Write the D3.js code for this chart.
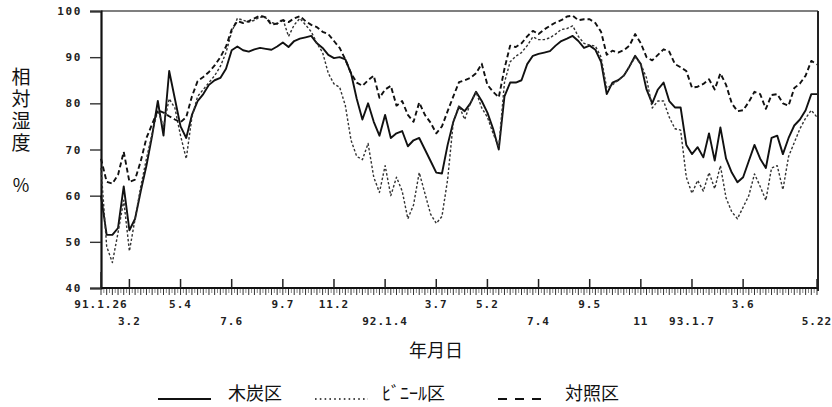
<!DOCTYPE html>
<html>
<head>
<meta charset="utf-8">
<script src="https://cdn.jsdelivr.net/npm/d3@7/dist/d3.min.js"></script>
<style>
  html, body { margin: 0; padding: 0; background: #fff; }
  svg { display: block; }
</style>
</head>
<body>
<svg id="chart" width="832" height="407"></svg>
<script>
// Weekly relative humidity (%) from 1991-01-26 to 1993-05-22, one value per week.
const charcoal = [
  60, 51.5, 51.5, 53, 62, 52.5, 55, 61, 66.5, 73, 80.5, 73, 87, 81, 75, 72.5,
  77.5, 80.5, 82, 84, 85, 85.5, 87.5, 91.5, 92.3, 91.5, 91.2, 91.7, 92, 91.8, 91.6, 92.3,
  93.2, 92.2, 93.5, 94, 94.3, 94.6, 93, 92, 90.5, 89.8, 90, 89.5, 86.5, 81, 76.5, 80,
  76, 73, 77.5, 72.5, 73.5, 74, 70.7, 72, 72.5, 70, 67.5, 65, 64.8, 71, 76, 79.3,
  78.3, 80, 82.5, 80.5, 78, 74.5, 70, 81.5, 84.5, 84.5, 85, 88.5, 90.3, 90.7, 91, 91.3,
  92.5, 93.5, 94, 94.6, 93.5, 92, 92.5, 91.6, 89, 82, 84.5, 85, 86, 88, 90.3, 88.5,
  83, 80, 83, 84.5, 80.5, 79.1, 79.1, 71, 69, 70.5, 68.3, 73.5, 67.6, 74.8, 68, 65,
  62.9, 64, 67.5, 71, 68, 66, 72.5, 73, 69, 72.5, 75.2, 76.5, 78.5, 82, 82
];
const vinyl = [
  66, 49, 45.5, 52, 59, 48, 55, 62, 68, 73.5, 78.5, 75, 81, 79, 73, 68,
  77, 81.5, 83, 84.5, 86, 88, 91, 95.5, 98.4, 98, 97.6, 98, 98.7, 98.5, 97.5, 97.2,
  98.3, 94.5, 97, 98.4, 97, 95.5, 93, 91, 86.5, 84.2, 83.5, 79.5, 72, 68.5, 67.8, 71.3,
  64, 60.7, 66.5, 60, 64, 61, 55, 58, 65, 60.5, 56, 54, 55.5, 63.5, 76, 79.5,
  76.5, 80, 82.5, 79, 77, 73.5, 70.5, 84.5, 89, 90.2, 91, 92.5, 94.4, 93.8, 93.8, 94.2,
  95, 96, 96.2, 96.8, 94.5, 93, 92.6, 92.4, 90, 83.3, 84, 85, 86, 88, 90, 88.5,
  85.5, 79, 80.5, 80.5, 77, 74.5, 74.2, 64, 60.5, 63.3, 61, 65, 61.5, 66.5, 59.5, 56.5,
  55, 57.5, 60, 64.7, 62, 59, 66, 66.5, 61.3, 68.5, 71.5, 74.5, 76.8, 78.5, 77
];
const control = [
  68, 63, 62.6, 64.5, 69.5, 63, 63.5, 67.5, 72.5, 75.5, 78.5, 78, 77.2, 76.5, 75.9, 77,
  81.5, 84.8, 85.7, 86.8, 88.2, 90, 92.3, 96, 97.8, 97.4, 97.8, 98.4, 99, 98.6, 97, 97.3,
  98, 97.6, 98.4, 98.9, 97.8, 97, 96.5, 95.5, 95, 93.5, 92, 89.5, 86.5, 84.5, 83.8, 85,
  86, 81.2, 83, 83.8, 79.5, 80.5, 77.5, 76, 80.2, 77.5, 75.8, 73.5, 75, 78.3, 81.5, 84.6,
  85, 85.5, 86.5, 88.6, 84, 82.5, 81.3, 87.5, 92.5, 92.2, 93, 94.5, 95.7, 95, 96, 96.8,
  97.5, 98, 98.8, 99, 98, 98.2, 98.2, 97.4, 95.5, 90.5, 91.4, 91, 91.5, 92.5, 95, 93,
  90, 89.3, 90.5, 91.7, 91.2, 88.5, 87.8, 87, 83.4, 83.6, 84.2, 85.2, 83, 86.5, 84, 80,
  78.3, 78.5, 80.3, 82.5, 82, 78.8, 81.8, 82, 80, 79.5, 83.3, 84.3, 86, 89.2, 88.4
];

// Date ticks along the week axis (week number from 1991-01-26) and their labels.
const tickWeeks  = [0, 5, 14, 23, 32, 41, 50, 59, 68, 77, 86, 95, 104, 113, 126];
const tickLabels = ["91.1.26", "3.2", "5.4", "7.6", "9.7", "11.2", "92.1.4", "3.7",
                    "5.2", "7.4", "9.5", "11", "93.1.7", "3.6", "5.22"];
const tickLine   = [0, 1, 0, 1, 0, 0, 1, 0, 0, 1, 0, 1, 1, 0, 1];   // label row (upper / lower)
const yTicks = [40, 50, 60, 70, 80, 90, 100];

const seriesNames = ["木炭区", "ﾋﾞﾆｰﾙ区", "対照区"];

const svg = d3.select("#chart");
const plotLeft = 101, plotRight = 818, plotTop = 11, plotBottom = 288;

const x = d3.scaleLinear().domain([0, 126]).range([plotLeft, plotRight - 1]);
const y = d3.scaleLinear().domain([40, 100]).range([plotBottom, plotTop]);

const styles = [
  { width: 1.9, dash: null,    color: "#111" },
  { width: 1.4, dash: "2.5,2", color: "#333" },
  { width: 1.9, dash: "5,3",   color: "#111" }
];
const seriesData = [charcoal, vinyl, control];

// frame: top and right borders
svg.append("line").attr("x1", plotLeft).attr("x2", plotRight).attr("y1", plotTop).attr("y2", plotTop)
  .attr("stroke", "#555").attr("stroke-width", 1.6);
svg.append("line").attr("x1", plotRight).attr("x2", plotRight).attr("y1", plotTop).attr("y2", plotBottom + 3)
  .attr("stroke", "#222").attr("stroke-width", 2);

// y axis
const yAxis = d3.axisLeft(y).tickValues(yTicks).tickSize(11).tickFormat(d3.format("d"));
const gy = svg.append("g").attr("transform", `translate(${plotLeft},0)`).call(yAxis);
gy.select(".domain").attr("stroke", "#111").attr("stroke-width", 2.2);
gy.selectAll(".tick line").attr("stroke", "#333").attr("stroke-width", 1.4);
gy.selectAll(".tick text")
  .attr("x", -19)
  .attr("font-family", "'DejaVu Sans Mono', monospace")
  .attr("font-weight", "bold")
  .attr("font-size", 11)
  .attr("letter-spacing", "1.6px")
  .attr("fill", "#222");

// x axis: weekly minor ticks below, dated major ticks above
const minorWeeks = d3.range(0, 126.01, 0.5);
const gx = svg.append("g");
gx.selectAll("line.minor").data(minorWeeks).join("line")
  .attr("class", "minor")
  .attr("x1", d => x(d)).attr("x2", d => x(d))
  .attr("y1", plotBottom).attr("y2", d => plotBottom + (d % 1 === 0 ? 7 : 5))
  .attr("stroke", d => d % 1 === 0 ? "#333" : "#888")
  .attr("stroke-width", 1);
gx.append("line").attr("x1", plotLeft).attr("x2", plotRight).attr("y1", plotBottom).attr("y2", plotBottom)
  .attr("stroke", "#111").attr("stroke-width", 2);
gx.selectAll("line.major").data(tickWeeks).join("line")
  .attr("class", "major")
  .attr("x1", d => x(d)).attr("x2", d => x(d))
  .attr("y1", plotBottom).attr("y2", (d, i) => plotBottom - (i === 0 ? 16 : 9))
  .attr("stroke", "#222").attr("stroke-width", 1.5);
gx.selectAll("text").data(tickWeeks).join("text")
  .attr("x", d => x(d))
  .attr("y", (d, i) => tickLine[i] ? 325 : 308)
  .attr("text-anchor", "middle")
  .attr("font-family", "'DejaVu Sans Mono', monospace")
  .attr("font-weight", "bold")
  .attr("font-size", 11)
  .attr("letter-spacing", "1px")
  .attr("fill", "#222")
  .text((d, i) => tickLabels[i]);

// series lines
const line = d3.line().x((d, i) => x(i)).y(d => y(d));
svg.append("g").selectAll("path").data(seriesData).join("path")
  .attr("d", d => line(d))
  .attr("fill", "none")
  .attr("stroke", (d, i) => styles[i].color)
  .attr("stroke-width", (d, i) => styles[i].width)
  .attr("stroke-dasharray", (d, i) => styles[i].dash)
  .attr("stroke-linejoin", "round");

// axis titles: the y title is set in vertical writing
const cjk = "'Noto Sans CJK JP', 'Noto Sans', sans-serif";
svg.append("text")
  .attr("x", 21).attr("y", 67)
  .attr("writing-mode", "vertical-rl")
  .attr("letter-spacing", "3px")
  .attr("font-family", cjk).attr("font-size", 19).attr("fill", "#111")
  .text("相対湿度");
svg.append("text").attr("x", 21).attr("y", 192)
  .attr("text-anchor", "middle")
  .attr("font-family", cjk).attr("font-size", 18).attr("fill", "#111")
  .text("%");
svg.append("text").attr("x", 436).attr("y", 357)
  .attr("text-anchor", "middle")
  .attr("font-family", cjk).attr("font-size", 18).attr("fill", "#111")
  .text("年月日");

// legend
const legendX = [158, 315, 498];
const legend = svg.append("g").selectAll("g").data(seriesNames).join("g")
  .attr("transform", (d, i) => `translate(${legendX[i]},0)`);
legend.append("line")
  .attr("x1", 0).attr("x2", (d, i) => i === 2 ? 45 : 53)
  .attr("y1", 399).attr("y2", 399)
  .attr("stroke", "#111")
  .attr("stroke-width", (d, i) => i === 1 ? 1.6 : 2.2)
  .attr("stroke-dasharray", (d, i) => i === 1 ? "1.6,3.2" : (i === 2 ? "9,8" : null));
legend.append("text")
  .attr("x", (d, i) => i === 2 ? 67 : (i === 1 ? 67 : 70))
  .attr("y", 400)
  .attr("font-family", cjk).attr("font-size", 18).attr("fill", "#111")
  .text(d => d);
</script>
</body>
</html>
